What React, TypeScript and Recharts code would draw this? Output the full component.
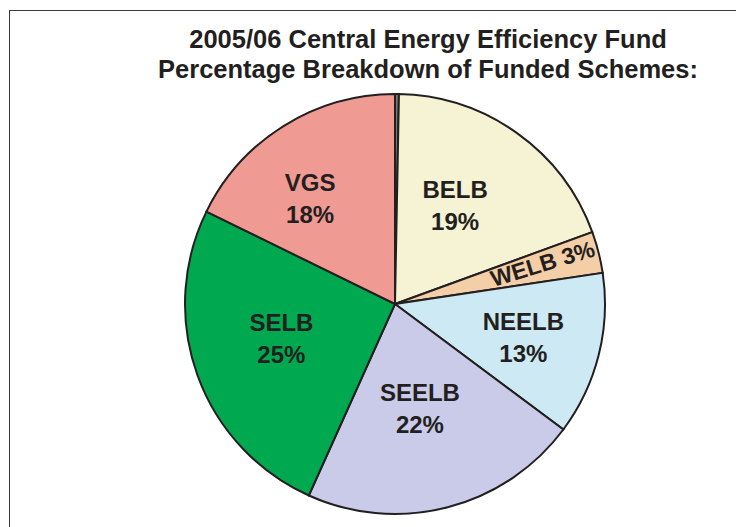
import React from "react";
import { PieChart, Pie, Cell } from "recharts";

const categories = ["", "BELB", "WELB", "NEELB", "SEELB", "SELB", "VGS"];
const values = [0.3, 19.2, 3.2, 12.6, 21.6, 25.6, 17.8];
const percentLabels = ["", "19%", "3%", "13%", "22%", "25%", "18%"];
const colors = ["#7a7a7a", "#f5f3d3", "#f3cea7", "#cde9f4", "#c9cbe9", "#00a94f", "#f09a94"];
const titleLines = [
  "2005/06 Central Energy Efficiency Fund",
  "Percentage Breakdown of Funded Schemes:",
];

const data = categories.map((name, i) => ({
  name,
  value: values[i],
  pct: percentLabels[i],
}));

const RAD = Math.PI / 180;
// label placement styling (radius fraction and small nudges)
const labelStyle: Record<string, { r: number; dx: number; dy: number }> = {
  BELB: { r: 0.55, dx: -7, dy: -5 },
  WELB: { r: 0.74, dx: -3, dy: -2 },
  NEELB: { r: 0.64, dx: -2, dy: 0 },
  SEELB: { r: 0.53, dx: -3, dy: -4 },
  SELB: { r: 0.57, dx: -1, dy: -7 },
  VGS: { r: 0.62, dx: -16, dy: 4 },
};

const font = "'Liberation Sans', Arial, Helvetica, sans-serif";

const renderLabel = (props: any) => {
  const { cx, cy, midAngle, outerRadius, index } = props;
  const d = data[index];
  if (!d.name) return null;
  const s = labelStyle[d.name] ?? { r: 0.58, dx: 0, dy: 0 };
  const r = outerRadius * s.r;
  const x = cx + r * Math.cos(-midAngle * RAD) + s.dx;
  const y = cy + r * Math.sin(-midAngle * RAD) + s.dy;
  if (d.name === "WELB") {
    return (
      <text
        x={x}
        y={y}
        textAnchor="middle"
        dominantBaseline="central"
        fontFamily={font}
        fontWeight="bold"
        fontSize={23}
        fill="#231f20"
        transform={`rotate(-17 ${x} ${y})`}
      >
        {d.name + " " + d.pct}
      </text>
    );
  }
  return (
    <text
      x={x}
      y={y}
      textAnchor="middle"
      fontFamily={font}
      fontWeight="bold"
      fontSize={24}
      fill="#231f20"
    >
      <tspan x={x} dy={-7}>
        {d.name}
      </tspan>
      <tspan x={x} dy={32}>
        {d.pct}
      </tspan>
    </text>
  );
};

export default function App() {
  return (
    <div
      style={{
        position: "relative",
        width: 736,
        height: 519,
        overflow: "hidden",
        background: "#ffffff",
      }}
    >
      <div
        style={{
          position: "absolute",
          left: 1,
          top: 2,
          width: 800,
          height: 600,
          borderTop: "1.5px solid #3c3c3c",
          borderLeft: "1.5px solid #3c3c3c",
          boxSizing: "border-box",
        }}
      />
      <div
        style={{
          position: "absolute",
          left: 120,
          width: 600,
          top: 16,
          textAlign: "center",
          fontFamily: font,
          fontWeight: "bold",
          fontSize: 25.5,
          lineHeight: "30px",
          color: "#231f20",
        }}
      >
        <div>{titleLines[0]}</div>
        <div>{titleLines[1]}</div>
      </div>
      <div style={{ position: "absolute", left: 0, top: 0 }}>
        <PieChart width={736} height={519} margin={{ top: 0, right: 0, bottom: 0, left: 0 }}>
          <Pie
            data={data}
            dataKey="value"
            nameKey="name"
            cx={387}
            cy={296}
            outerRadius={210}
            startAngle={90}
            endAngle={-270}
            stroke="#231f20"
            strokeWidth={2}
            label={renderLabel}
            labelLine={false}
            isAnimationActive={false}
          >
            {data.map((d, i) => (
              <Cell key={i} fill={colors[i]} />
            ))}
          </Pie>
        </PieChart>
      </div>
    </div>
  );
}
